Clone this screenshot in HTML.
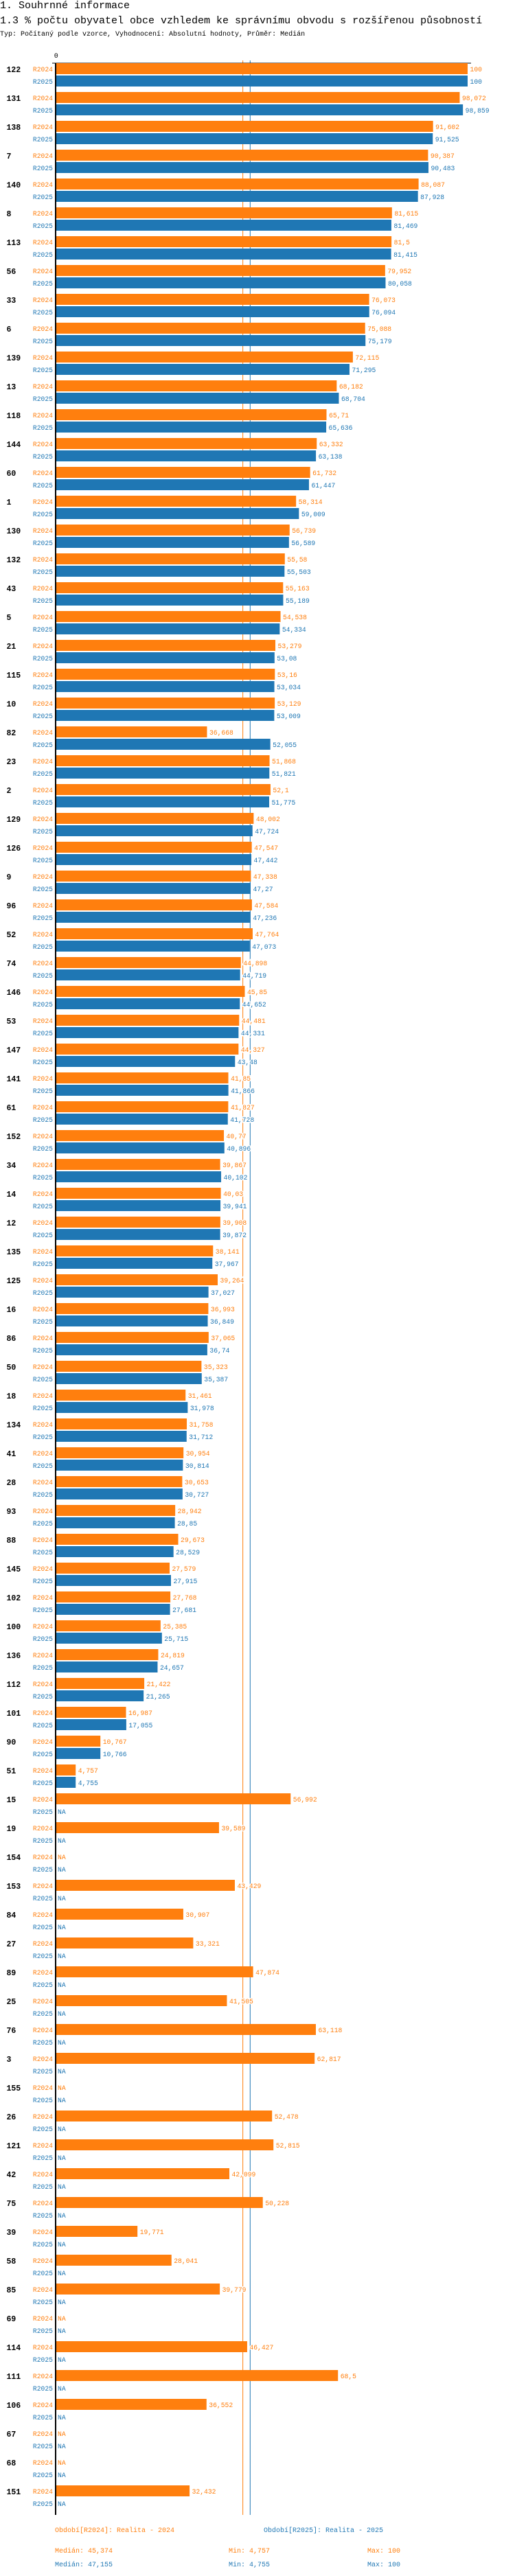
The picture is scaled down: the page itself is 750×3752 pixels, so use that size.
<!DOCTYPE html>
<html><head><meta charset="utf-8">
<style>
html,body{margin:0;padding:0;background:#fff;width:750px;height:3752px;overflow:hidden}
.h{position:absolute;left:0;font-family:"Liberation Mono",monospace;color:#000;white-space:nowrap}
svg text{font-family:"Liberation Mono",monospace}
</style></head>
<body>
<div class="h" style="top:0px;font-size:15px;line-height:18px">1. Souhrnné informace</div>
<div class="h" style="top:22px;font-size:15px;line-height:18px">1.3 % počtu obyvatel obce vzhledem ke správnímu obvodu s rozšířenou působností</div>
<div class="h" style="top:45px;font-size:10px;line-height:12px">Typ: Počítaný podle vzorce, Vyhodnocení: Absolutní hodnoty, Průměr: Medián</div>
<svg id="chart" width="750" height="3752" style="position:absolute;left:0;top:0"></svg>
<script>
const categories=["122","131","138","7","140","8","113","56","33","6","139","13","118","144","60","1","130","132","43","5","21","115","10","82","23","2","129","126","9","96","52","74","146","53","147","141","61","152","34","14","12","135","125","16","86","50","18","134","41","28","93","88","145","102","100","136","112","101","90","51","15","19","154","153","84","27","89","25","76","3","155","26","121","42","75","39","58","85","69","114","111","106","67","68","151"];
const values2024=[100,98.072,91.602,90.387,88.087,81.615,81.5,79.952,76.073,75.088,72.115,68.182,65.71,63.332,61.732,58.314,56.739,55.58,55.163,54.538,53.279,53.16,53.129,36.668,51.868,52.1,48.002,47.547,47.338,47.584,47.764,44.898,45.85,44.481,44.327,41.85,41.827,40.77,39.867,40.03,39.908,38.141,39.264,36.993,37.065,35.323,31.461,31.758,30.954,30.653,28.942,29.673,27.579,27.768,25.385,24.819,21.422,16.987,10.767,4.757,56.992,39.589,null,43.429,30.907,33.321,47.874,41.505,63.118,62.817,null,52.478,52.815,42.099,50.228,19.771,28.041,39.779,null,46.427,68.5,36.552,null,null,32.432];
const values2025=[100,98.859,91.525,90.483,87.928,81.469,81.415,80.058,76.094,75.179,71.295,68.704,65.636,63.138,61.447,59.009,56.589,55.503,55.189,54.334,53.08,53.034,53.009,52.055,51.821,51.775,47.724,47.442,47.27,47.236,47.073,44.719,44.652,44.331,43.48,41.866,41.728,40.896,40.102,39.941,39.872,37.967,37.027,36.849,36.74,35.387,31.978,31.712,30.814,30.727,28.85,28.529,27.915,27.681,25.715,24.657,21.265,17.055,10.766,4.755,null,null,null,null,null,null,null,null,null,null,null,null,null,null,null,null,null,null,null,null,null,null,null,null,null];
const medians=[45.374,47.155];
const mins=["4,757","4,755"];
const maxs=["100","100"];
const seriesNames=["R2024","R2025"];
const legendLabels=["Období[R2024]: Realita - 2024","Období[R2025]: Realita - 2025"];

const NS="http://www.w3.org/2000/svg";
const svg=document.getElementById('chart');
const colors=["#ff7f0e","#1f77b4"];
const X0=81.7,SC=5.993,TOP=92,BOT=3663,G=42;
function xs(v){return X0+v*SC;}
function gy(i){return 101+i*G;}
function fmt(v){return String(v).replace('.',',');}
function mk(tag,attrs,parent){const e=document.createElementNS(NS,tag);for(const k in attrs)e.setAttribute(k,attrs[k]);(parent||svg).appendChild(e);return e;}

// median lines (behind bars)
medians.forEach((m,s)=>{
  const l=mk('line',{x1:xs(m),x2:xs(m),y1:88,y2:BOT,stroke:colors[s],'stroke-width':1});
  
  
});
// top axis
const ta=mk('line',{x1:76,x2:686,y1:TOP,y2:TOP,stroke:'#000','stroke-width':1});


const z=mk('text',{x:xs(0),y:84,'font-size':10,'text-anchor':'middle',fill:'#000'});
z.textContent='0';



categories.forEach((c,i)=>{
  const cy=gy(i);
  const g=mk('g',{});
  
  
  const lab=mk('text',{x:9.5,y:cy+4,'font-size':11.5,'font-weight':'bold',fill:'#000'},g);
  lab.textContent=c;
  
  
  [values2024[i],values2025[i]].forEach((v,s)=>{
    const by=cy-9+s*18;
    const sl=mk('text',{x:77,y:by+12,'font-size':9.7,'text-anchor':'end',fill:colors[s]},g);
    sl.textContent=seriesNames[s];
    
    
    if(v===null){
      const na=mk('text',{x:84,y:by+12,'font-size':9.7,fill:colors[s]},g);
      na.textContent='NA';
      
      
      return;
    }
    const r=mk('rect',{x:X0,y:by,width:xs(v)-X0,height:16,fill:colors[s]},g);
    
    
    const vl=mk('text',{x:xs(v)+3.5,y:by+12,'font-size':9.7,fill:colors[s],stroke:'#fff','stroke-width':3,'paint-order':'stroke'},g);
    vl.textContent=fmt(v);
    
    
  });
});
// vertical axis
const va=mk('line',{x1:81,x2:81,y1:TOP,y2:BOT,stroke:'#000','stroke-width':2});



// legend
legendLabels.forEach((t,s)=>{
  const e=mk('text',{x:s?384:80,y:3688,'font-size':10,fill:colors[s]});
  e.textContent=t;
  
  
  const y=3718+s*20;
  const m=mk('text',{x:80,y:y,'font-size':10,fill:colors[s]});
  m.textContent='Medián: '+fmt(medians[s]);
  
  
  const mi=mk('text',{x:333,y:y,'font-size':10,fill:colors[s]});
  mi.textContent='Min: '+mins[s];
  
  
  const ma=mk('text',{x:535,y:y,'font-size':10,fill:colors[s]});
  ma.textContent='Max: '+maxs[s];
  
  
});
</script>
</body></html>
